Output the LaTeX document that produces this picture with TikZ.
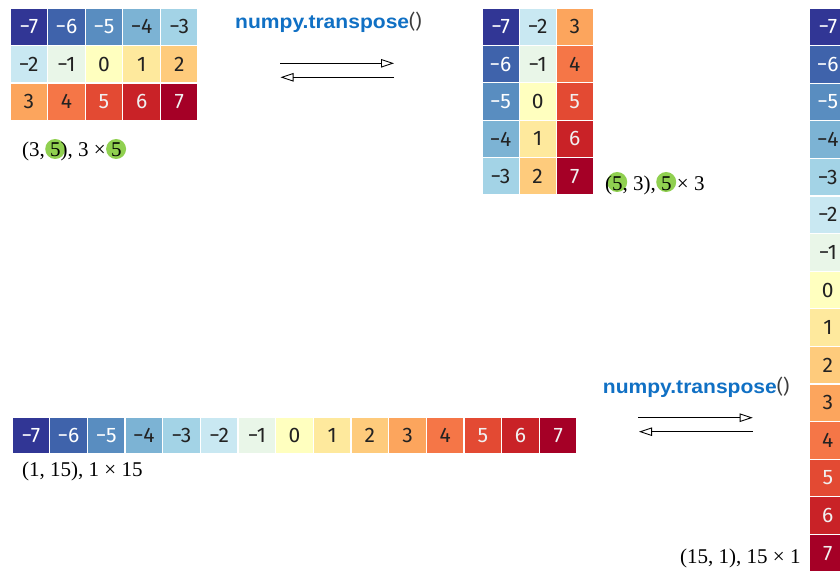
\documentclass[tikz,border=0pt]{standalone}
\usepackage{fontspec}
\setmainfont{Liberation Serif}
\newfontfamily\cellfont{Fira Sans}
\newfontfamily\npfont{Liberation Sans}
\usetikzlibrary{arrows.meta}
\definecolor{c0}{RGB}{49,54,149}
\definecolor{c1}{RGB}{63,99,171}
\definecolor{c2}{RGB}{89,141,192}
\definecolor{c3}{RGB}{124,179,212}
\definecolor{c4}{RGB}{163,211,230}
\definecolor{c5}{RGB}{201,232,242}
\definecolor{c6}{RGB}{233,246,232}
\definecolor{c7}{RGB}{255,255,191}
\definecolor{c8}{RGB}{254,233,157}
\definecolor{c9}{RGB}{254,203,124}
\definecolor{c10}{RGB}{252,165,93}
\definecolor{c11}{RGB}{245,118,71}
\definecolor{c12}{RGB}{227,74,51}
\definecolor{c13}{RGB}{201,34,39}
\definecolor{c14}{RGB}{165,0,38}
\definecolor{darktxt}{RGB}{34,34,34}
\colorlet{t0}{white}\colorlet{t1}{white}\colorlet{t2}{white}
\colorlet{t3}{darktxt}\colorlet{t4}{darktxt}\colorlet{t5}{darktxt}
\colorlet{t6}{darktxt}\colorlet{t7}{darktxt}\colorlet{t8}{darktxt}
\colorlet{t9}{darktxt}\colorlet{t10}{darktxt}\colorlet{t11}{darktxt}
\colorlet{t12}{white!94!black}\colorlet{t13}{white!94!black}\colorlet{t14}{white!94!black}
\definecolor{lgreen}{RGB}{144,208,80}
\definecolor{npblue}{RGB}{16,112,196}
\definecolor{pgray}{RGB}{60,60,60}
\newcommand\cellval[1]{\ifnum#1<7 −\the\numexpr7-#1\relax\else\the\numexpr#1-7\relax\fi}
\newcommand\nptext{\scalebox{1.08}[1]{\npfont\bfseries\fontsize{19.5}{20}\selectfont\color{npblue}numpy.transpose}{\cellfont\fontsize{19.5}{20}\selectfont\color{pgray}()}}
\begin{document}
\begin{tikzpicture}[x=1pt,y=-1pt,
  cell/.style={fill=c#1, text=t#1, draw=white, line width=1.2pt, inner sep=0pt,
    font=\cellfont\fontsize{21}{21}\selectfont},
  mA/.style={minimum width=37.6pt, minimum height=37.5pt},
  mB/.style={minimum width=37.1pt, minimum height=37.4pt},
  mC/.style={minimum width=37.67pt, minimum height=37pt},
  mD/.style={minimum width=37.6pt, minimum height=37.6pt},
  lbl/.style={font=\fontsize{21}{24}\selectfont, inner sep=0pt, anchor=base west, text=black},
  gdot/.style={circle, fill=lgreen, minimum size=20pt, inner sep=0pt},
  np/.style={inner sep=0pt, anchor=base west},
  arr/.style={-{Triangle[open,length=13pt,width=8.5pt]}, line width=0.9pt, draw=black}]
\useasboundingbox (0,0) rectangle (840,572);
\clip (0,0) rectangle (840,572);
% 3 x 5 matrix
\foreach \r in {0,1,2}{\foreach \c in {0,...,4}{
  \pgfmathtruncatemacro\k{5*\r+\c}
  \node[cell=\k, mA] (A-\r-\c) at ({10+37.6*\c+18.8},{8+37.5*\r+18.75}) {\cellval{\k}};
}}
% 5 x 3 matrix
\foreach \r in {0,...,4}{\foreach \c in {0,1,2}{
  \pgfmathtruncatemacro\k{5*\c+\r}
  \node[cell=\k, mB] (B-\r-\c) at ({482+37.1*\c+18.55},{8+37.4*\r+18.7}) {\cellval{\k}};
}}
% 1 x 15 row
\foreach \c in {0,...,14}{
  \node[cell=\c, mC] (C-\c) at ({12+37.67*\c+18.83},{417+18.5}) {\cellval{\c}};
}
% 15 x 1 column
\foreach \r in {0,...,14}{
  \node[cell=\r, mD] (D-\r) at ({809+18.8},{8+37.6*\r+18.8}) {\cellval{\r}};
}
% labels
\node[gdot] (g1) at (55.2,149) {};
\node[gdot] (g2) at (116.1,149) {};
\node[lbl] (L1) at (22,157) {(3, 5), 3 × 5};
\node[gdot] (g3) at (617.2,182) {};
\node[gdot] (g4) at (666.2,182) {};
\node[lbl] (L2) at (605,190) {(5, 3), 5 × 3};
\node[lbl] (L3) at (22,476) {(1, 15), 1 × 15};
\node[lbl] (L4) at (680,563) {(15, 1), 15 × 1};
% transpose texts
\node[np] (T1) at (235,29) {\nptext};
\node[np] (T2) at (602.7,393.3) {\nptext};
% arrows
\coordinate (r1s) at (280,63.3); \coordinate (r1e) at (394,63.3);
\coordinate (l1s) at (394,77.3); \coordinate (l1e) at (280.5,77.3);
\draw[arr] (r1s) -- (r1e);
\draw[arr] (l1s) -- (l1e);
\coordinate (r2s) at (638.3,417.7); \coordinate (r2e) at (752.7,417.7);
\coordinate (l2s) at (752.7,431.7); \coordinate (l2e) at (639,431.7);
\draw[arr] (r2s) -- (r2e);
\draw[arr] (l2s) -- (l2e);
\end{tikzpicture}
\end{document}
